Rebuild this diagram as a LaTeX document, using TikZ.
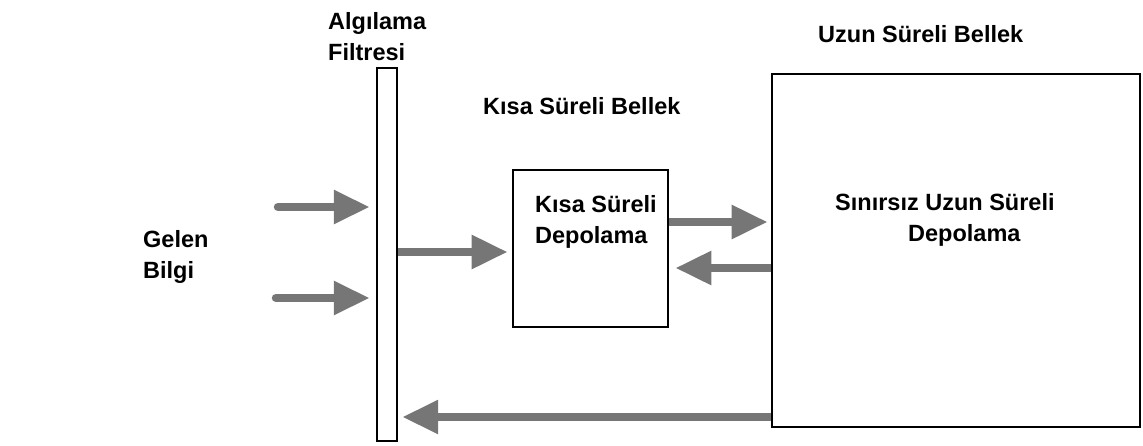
\documentclass[tikz,border=0pt]{standalone}
\usepackage{fontspec}
\setmainfont{Liberation Sans}
\usetikzlibrary{arrows.meta}

\definecolor{arrgray}{RGB}{118,118,118}

\tikzset{store box/.style={
	draw=black, line width=2.6pt, inner sep=0pt
	},
	flow arrow/.style={
	draw=arrgray, line width=8.5pt, -{Triangle[length=36pt,width=32pt]}
	},
	label text/.style={
	anchor=north west, inner sep=0pt, align=left,
	font=\fontsize{23.5}{31}\selectfont\bfseries
	}
}

\begin{document}
\begin{tikzpicture}[x=1pt, y=-1pt]
	\useasboundingbox (0,0) rectangle (1143,445);

	% filtre ve bellek kutulari
	\node [store box, line width=2.4pt, minimum width=20pt, minimum height=373pt] (filter) at (387,254.5) {};
	\node [store box, minimum width=155pt, minimum height=157pt] (stm) at (590.5,248.5) {};
	\node [store box, minimum width=368pt, minimum height=353pt] (ltm) at (956,250.5) {};

	% yazilar
	\node [label text] (filterlabel) at (328,12) {Algılama\\Filtresi};
	\node [label text] (ltmlabel) at (818,25) {Uzun Süreli Bellek};
	\node [label text] (stmlabel) at (483,97) {Kısa Süreli Bellek};
	\node [label text] (stmtext) at (535,195) {Kısa Süreli\\Depolama};
	\node [label text] (ltmtext) at (835,193) {Sınırsız Uzun Süreli\\\hspace*{73pt}Depolama};
	\node [label text] (input) at (143,230) {Gelen\\Bilgi};

	% oklar
	\coordinate (in1) at (278,207);
	\coordinate (in2) at (276,298);
	\draw [flow arrow, line cap=round, shorten >=6pt] (in1) -- (filter.west |- in1);
	\draw [flow arrow, line cap=round, shorten >=6pt] (in2) -- (filter.west |- in2);
	\draw [flow arrow, shorten >=4pt] (filter.east |- 0,252) -- (stm.west |- 0,252);
	\draw [flow arrow, shorten >=3pt] (stm.east |- 0,222) -- (ltm.west |- 0,222);
	\draw [flow arrow, shorten >=6pt] (ltm.west |- 0,268) -- (stm.east |- 0,268);
	\draw [flow arrow, shorten >=4pt] (ltm.west |- 0,417) -- (filter.east |- 0,417);
\end{tikzpicture}
\end{document}
